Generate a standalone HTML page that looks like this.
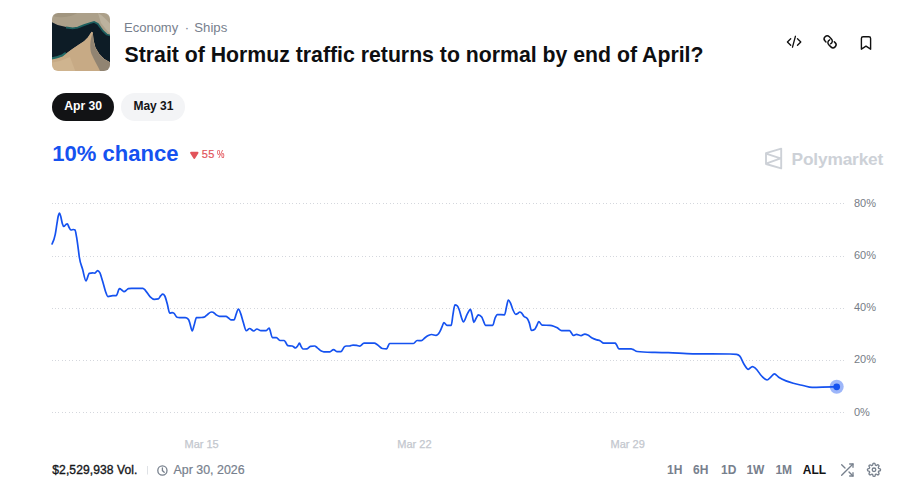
<!DOCTYPE html>
<html><head><meta charset="utf-8"><style>
*{margin:0;padding:0;box-sizing:border-box}
html,body{width:905px;height:492px;background:#fff;overflow:hidden}
body{position:relative;font-family:"Liberation Sans",sans-serif}
.t{position:absolute;white-space:nowrap}
.pill{position:absolute;border-radius:14px}
svg{position:absolute;left:0;top:0}
</style></head><body>
<svg width="905" height="492" viewBox="0 0 905 492">
<defs>
<linearGradient id="sea" x1="0" y1="0" x2="1" y2="1">
<stop offset="0" stop-color="#0c2a35"/><stop offset="1" stop-color="#0a1c2a"/>
</linearGradient>
<clipPath id="thc"><rect x="52" y="13" width="58" height="58" rx="6"/></clipPath>
</defs>
<filter id="bl" x="-10%" y="-10%" width="120%" height="120%"><feGaussianBlur stdDeviation="0.7"/></filter>
<g clip-path="url(#thc)"><g filter="url(#bl)">
<rect x="50" y="11" width="62" height="62" fill="#aca08a"/>
<path d="M50 11 H80 C74 16 66 18 58 17 C54 17 52 15 50 14 Z" fill="#a1957f"/>
<path d="M98 13 C103 16 108 21 112 26 L112 36 C108 32 104 27 101 23 Z" fill="#bcb29e"/>
<path d="M52 22.3 L57.6 24.9 L65.1 26.8 L72.7 28.4 L77.7 27.6 L84 25.2 L90.3 23 L94.1 22 L97.9 24 L100.4 27.6 L102.9 31 L106.7 34.5 L112 36 L112 63.5 L104.2 58.9 L99.1 53.8 L95.4 47.5 L93.5 40 L92.8 32.4 L91.6 31.8 L87.8 37.5 L84 41.2 L79 44.4 L72.7 48.8 L67.6 52.6 L62.6 56.4 L57.6 58.3 L50 60 L50 22 Z" fill="#0c1a28"/>
<path d="M66 27.5 L72.7 28.4 L77.7 27.6 L84 25.2 L90.3 23 L94.1 22 L97.9 24 L100.4 27.6 L102.9 31 L106.7 34.5 L112 36" fill="none" stroke="#1d5f5e" stroke-width="1.8"/>
<path d="M50 59 L57.6 57.3 L62.6 55.4 L66 53" fill="none" stroke="#236a66" stroke-width="2.6"/>
<path d="M91.6 31.8 L87.8 37.5 L84 41.2 L79 44.4 L72.7 48.8 L67.6 52.6 L62.6 56.4 L57.6 58.3 L50 60 L50 73 L112 73 L112 63.5 L104.2 58.9 L99.1 53.8 L95.4 47.5 L93.5 40 L92.8 32.4 Z" fill="#c7aa85"/>
<path d="M50 63 L60 61 L70 57 L76 73 L50 73 Z" fill="#cfb48f"/>
<path d="M92.6 33 L93.3 40 L95.2 47.5 L99 53.8 L104 58.9 L112 63.5 L112 73 L101 73 C98 66 94 60 91.5 54 C89.5 48 90 40 92.6 33 Z" fill="#918472"/>
</g></g>
<path d="M52 203h1v1h-1zM55 203h1v1h-1zM58 203h1v1h-1zM62 203h1v1h-1zM65 203h1v1h-1zM69 203h1v1h-1zM72 203h1v1h-1zM76 203h1v1h-1zM79 203h1v1h-1zM83 203h1v1h-1zM86 203h1v1h-1zM90 203h1v1h-1zM93 203h1v1h-1zM97 203h1v1h-1zM100 203h1v1h-1zM104 203h1v1h-1zM107 203h1v1h-1zM111 203h1v1h-1zM114 203h1v1h-1zM118 203h1v1h-1zM121 203h1v1h-1zM125 203h1v1h-1zM128 203h1v1h-1zM132 203h1v1h-1zM135 203h1v1h-1zM139 203h1v1h-1zM142 203h1v1h-1zM146 203h1v1h-1zM149 203h1v1h-1zM153 203h1v1h-1zM156 203h1v1h-1zM160 203h1v1h-1zM163 203h1v1h-1zM167 203h1v1h-1zM170 203h1v1h-1zM174 203h1v1h-1zM177 203h1v1h-1zM181 203h1v1h-1zM184 203h1v1h-1zM188 203h1v1h-1zM191 203h1v1h-1zM194 203h1v1h-1zM198 203h1v1h-1zM201 203h1v1h-1zM205 203h1v1h-1zM208 203h1v1h-1zM212 203h1v1h-1zM215 203h1v1h-1zM219 203h1v1h-1zM222 203h1v1h-1zM226 203h1v1h-1zM229 203h1v1h-1zM233 203h1v1h-1zM236 203h1v1h-1zM240 203h1v1h-1zM243 203h1v1h-1zM247 203h1v1h-1zM250 203h1v1h-1zM254 203h1v1h-1zM257 203h1v1h-1zM261 203h1v1h-1zM264 203h1v1h-1zM268 203h1v1h-1zM271 203h1v1h-1zM275 203h1v1h-1zM278 203h1v1h-1zM282 203h1v1h-1zM285 203h1v1h-1zM289 203h1v1h-1zM292 203h1v1h-1zM296 203h1v1h-1zM299 203h1v1h-1zM303 203h1v1h-1zM306 203h1v1h-1zM310 203h1v1h-1zM313 203h1v1h-1zM317 203h1v1h-1zM320 203h1v1h-1zM324 203h1v1h-1zM327 203h1v1h-1zM331 203h1v1h-1zM334 203h1v1h-1zM337 203h1v1h-1zM341 203h1v1h-1zM344 203h1v1h-1zM348 203h1v1h-1zM351 203h1v1h-1zM355 203h1v1h-1zM358 203h1v1h-1zM362 203h1v1h-1zM365 203h1v1h-1zM369 203h1v1h-1zM372 203h1v1h-1zM376 203h1v1h-1zM379 203h1v1h-1zM383 203h1v1h-1zM386 203h1v1h-1zM390 203h1v1h-1zM393 203h1v1h-1zM397 203h1v1h-1zM400 203h1v1h-1zM404 203h1v1h-1zM407 203h1v1h-1zM411 203h1v1h-1zM414 203h1v1h-1zM418 203h1v1h-1zM421 203h1v1h-1zM425 203h1v1h-1zM428 203h1v1h-1zM432 203h1v1h-1zM435 203h1v1h-1zM439 203h1v1h-1zM442 203h1v1h-1zM446 203h1v1h-1zM449 203h1v1h-1zM453 203h1v1h-1zM456 203h1v1h-1zM460 203h1v1h-1zM463 203h1v1h-1zM467 203h1v1h-1zM470 203h1v1h-1zM473 203h1v1h-1zM477 203h1v1h-1zM480 203h1v1h-1zM484 203h1v1h-1zM487 203h1v1h-1zM491 203h1v1h-1zM494 203h1v1h-1zM498 203h1v1h-1zM501 203h1v1h-1zM505 203h1v1h-1zM508 203h1v1h-1zM512 203h1v1h-1zM515 203h1v1h-1zM519 203h1v1h-1zM522 203h1v1h-1zM526 203h1v1h-1zM529 203h1v1h-1zM533 203h1v1h-1zM536 203h1v1h-1zM540 203h1v1h-1zM543 203h1v1h-1zM547 203h1v1h-1zM550 203h1v1h-1zM554 203h1v1h-1zM557 203h1v1h-1zM561 203h1v1h-1zM564 203h1v1h-1zM568 203h1v1h-1zM571 203h1v1h-1zM575 203h1v1h-1zM578 203h1v1h-1zM582 203h1v1h-1zM585 203h1v1h-1zM589 203h1v1h-1zM592 203h1v1h-1zM596 203h1v1h-1zM599 203h1v1h-1zM603 203h1v1h-1zM606 203h1v1h-1zM610 203h1v1h-1zM613 203h1v1h-1zM616 203h1v1h-1zM620 203h1v1h-1zM623 203h1v1h-1zM627 203h1v1h-1zM630 203h1v1h-1zM634 203h1v1h-1zM637 203h1v1h-1zM641 203h1v1h-1zM644 203h1v1h-1zM648 203h1v1h-1zM651 203h1v1h-1zM655 203h1v1h-1zM658 203h1v1h-1zM662 203h1v1h-1zM665 203h1v1h-1zM669 203h1v1h-1zM672 203h1v1h-1zM676 203h1v1h-1zM679 203h1v1h-1zM683 203h1v1h-1zM686 203h1v1h-1zM690 203h1v1h-1zM693 203h1v1h-1zM697 203h1v1h-1zM700 203h1v1h-1zM704 203h1v1h-1zM707 203h1v1h-1zM711 203h1v1h-1zM714 203h1v1h-1zM718 203h1v1h-1zM721 203h1v1h-1zM725 203h1v1h-1zM728 203h1v1h-1zM732 203h1v1h-1zM735 203h1v1h-1zM739 203h1v1h-1zM742 203h1v1h-1zM746 203h1v1h-1zM749 203h1v1h-1zM752 203h1v1h-1zM756 203h1v1h-1zM759 203h1v1h-1zM763 203h1v1h-1zM766 203h1v1h-1zM770 203h1v1h-1zM773 203h1v1h-1zM777 203h1v1h-1zM780 203h1v1h-1zM784 203h1v1h-1zM787 203h1v1h-1zM791 203h1v1h-1zM794 203h1v1h-1zM798 203h1v1h-1zM801 203h1v1h-1zM805 203h1v1h-1zM808 203h1v1h-1zM812 203h1v1h-1zM815 203h1v1h-1zM819 203h1v1h-1zM822 203h1v1h-1zM826 203h1v1h-1zM829 203h1v1h-1zM833 203h1v1h-1zM836 203h1v1h-1zM840 203h1v1h-1zM843 203h1v1h-1zM52 256h1v1h-1zM55 256h1v1h-1zM58 256h1v1h-1zM62 256h1v1h-1zM65 256h1v1h-1zM69 256h1v1h-1zM72 256h1v1h-1zM76 256h1v1h-1zM79 256h1v1h-1zM83 256h1v1h-1zM86 256h1v1h-1zM90 256h1v1h-1zM93 256h1v1h-1zM97 256h1v1h-1zM100 256h1v1h-1zM104 256h1v1h-1zM107 256h1v1h-1zM111 256h1v1h-1zM114 256h1v1h-1zM118 256h1v1h-1zM121 256h1v1h-1zM125 256h1v1h-1zM128 256h1v1h-1zM132 256h1v1h-1zM135 256h1v1h-1zM139 256h1v1h-1zM142 256h1v1h-1zM146 256h1v1h-1zM149 256h1v1h-1zM153 256h1v1h-1zM156 256h1v1h-1zM160 256h1v1h-1zM163 256h1v1h-1zM167 256h1v1h-1zM170 256h1v1h-1zM174 256h1v1h-1zM177 256h1v1h-1zM181 256h1v1h-1zM184 256h1v1h-1zM188 256h1v1h-1zM191 256h1v1h-1zM194 256h1v1h-1zM198 256h1v1h-1zM201 256h1v1h-1zM205 256h1v1h-1zM208 256h1v1h-1zM212 256h1v1h-1zM215 256h1v1h-1zM219 256h1v1h-1zM222 256h1v1h-1zM226 256h1v1h-1zM229 256h1v1h-1zM233 256h1v1h-1zM236 256h1v1h-1zM240 256h1v1h-1zM243 256h1v1h-1zM247 256h1v1h-1zM250 256h1v1h-1zM254 256h1v1h-1zM257 256h1v1h-1zM261 256h1v1h-1zM264 256h1v1h-1zM268 256h1v1h-1zM271 256h1v1h-1zM275 256h1v1h-1zM278 256h1v1h-1zM282 256h1v1h-1zM285 256h1v1h-1zM289 256h1v1h-1zM292 256h1v1h-1zM296 256h1v1h-1zM299 256h1v1h-1zM303 256h1v1h-1zM306 256h1v1h-1zM310 256h1v1h-1zM313 256h1v1h-1zM317 256h1v1h-1zM320 256h1v1h-1zM324 256h1v1h-1zM327 256h1v1h-1zM331 256h1v1h-1zM334 256h1v1h-1zM337 256h1v1h-1zM341 256h1v1h-1zM344 256h1v1h-1zM348 256h1v1h-1zM351 256h1v1h-1zM355 256h1v1h-1zM358 256h1v1h-1zM362 256h1v1h-1zM365 256h1v1h-1zM369 256h1v1h-1zM372 256h1v1h-1zM376 256h1v1h-1zM379 256h1v1h-1zM383 256h1v1h-1zM386 256h1v1h-1zM390 256h1v1h-1zM393 256h1v1h-1zM397 256h1v1h-1zM400 256h1v1h-1zM404 256h1v1h-1zM407 256h1v1h-1zM411 256h1v1h-1zM414 256h1v1h-1zM418 256h1v1h-1zM421 256h1v1h-1zM425 256h1v1h-1zM428 256h1v1h-1zM432 256h1v1h-1zM435 256h1v1h-1zM439 256h1v1h-1zM442 256h1v1h-1zM446 256h1v1h-1zM449 256h1v1h-1zM453 256h1v1h-1zM456 256h1v1h-1zM460 256h1v1h-1zM463 256h1v1h-1zM467 256h1v1h-1zM470 256h1v1h-1zM473 256h1v1h-1zM477 256h1v1h-1zM480 256h1v1h-1zM484 256h1v1h-1zM487 256h1v1h-1zM491 256h1v1h-1zM494 256h1v1h-1zM498 256h1v1h-1zM501 256h1v1h-1zM505 256h1v1h-1zM508 256h1v1h-1zM512 256h1v1h-1zM515 256h1v1h-1zM519 256h1v1h-1zM522 256h1v1h-1zM526 256h1v1h-1zM529 256h1v1h-1zM533 256h1v1h-1zM536 256h1v1h-1zM540 256h1v1h-1zM543 256h1v1h-1zM547 256h1v1h-1zM550 256h1v1h-1zM554 256h1v1h-1zM557 256h1v1h-1zM561 256h1v1h-1zM564 256h1v1h-1zM568 256h1v1h-1zM571 256h1v1h-1zM575 256h1v1h-1zM578 256h1v1h-1zM582 256h1v1h-1zM585 256h1v1h-1zM589 256h1v1h-1zM592 256h1v1h-1zM596 256h1v1h-1zM599 256h1v1h-1zM603 256h1v1h-1zM606 256h1v1h-1zM610 256h1v1h-1zM613 256h1v1h-1zM616 256h1v1h-1zM620 256h1v1h-1zM623 256h1v1h-1zM627 256h1v1h-1zM630 256h1v1h-1zM634 256h1v1h-1zM637 256h1v1h-1zM641 256h1v1h-1zM644 256h1v1h-1zM648 256h1v1h-1zM651 256h1v1h-1zM655 256h1v1h-1zM658 256h1v1h-1zM662 256h1v1h-1zM665 256h1v1h-1zM669 256h1v1h-1zM672 256h1v1h-1zM676 256h1v1h-1zM679 256h1v1h-1zM683 256h1v1h-1zM686 256h1v1h-1zM690 256h1v1h-1zM693 256h1v1h-1zM697 256h1v1h-1zM700 256h1v1h-1zM704 256h1v1h-1zM707 256h1v1h-1zM711 256h1v1h-1zM714 256h1v1h-1zM718 256h1v1h-1zM721 256h1v1h-1zM725 256h1v1h-1zM728 256h1v1h-1zM732 256h1v1h-1zM735 256h1v1h-1zM739 256h1v1h-1zM742 256h1v1h-1zM746 256h1v1h-1zM749 256h1v1h-1zM752 256h1v1h-1zM756 256h1v1h-1zM759 256h1v1h-1zM763 256h1v1h-1zM766 256h1v1h-1zM770 256h1v1h-1zM773 256h1v1h-1zM777 256h1v1h-1zM780 256h1v1h-1zM784 256h1v1h-1zM787 256h1v1h-1zM791 256h1v1h-1zM794 256h1v1h-1zM798 256h1v1h-1zM801 256h1v1h-1zM805 256h1v1h-1zM808 256h1v1h-1zM812 256h1v1h-1zM815 256h1v1h-1zM819 256h1v1h-1zM822 256h1v1h-1zM826 256h1v1h-1zM829 256h1v1h-1zM833 256h1v1h-1zM836 256h1v1h-1zM840 256h1v1h-1zM843 256h1v1h-1zM52 308h1v1h-1zM55 308h1v1h-1zM58 308h1v1h-1zM62 308h1v1h-1zM65 308h1v1h-1zM69 308h1v1h-1zM72 308h1v1h-1zM76 308h1v1h-1zM79 308h1v1h-1zM83 308h1v1h-1zM86 308h1v1h-1zM90 308h1v1h-1zM93 308h1v1h-1zM97 308h1v1h-1zM100 308h1v1h-1zM104 308h1v1h-1zM107 308h1v1h-1zM111 308h1v1h-1zM114 308h1v1h-1zM118 308h1v1h-1zM121 308h1v1h-1zM125 308h1v1h-1zM128 308h1v1h-1zM132 308h1v1h-1zM135 308h1v1h-1zM139 308h1v1h-1zM142 308h1v1h-1zM146 308h1v1h-1zM149 308h1v1h-1zM153 308h1v1h-1zM156 308h1v1h-1zM160 308h1v1h-1zM163 308h1v1h-1zM167 308h1v1h-1zM170 308h1v1h-1zM174 308h1v1h-1zM177 308h1v1h-1zM181 308h1v1h-1zM184 308h1v1h-1zM188 308h1v1h-1zM191 308h1v1h-1zM194 308h1v1h-1zM198 308h1v1h-1zM201 308h1v1h-1zM205 308h1v1h-1zM208 308h1v1h-1zM212 308h1v1h-1zM215 308h1v1h-1zM219 308h1v1h-1zM222 308h1v1h-1zM226 308h1v1h-1zM229 308h1v1h-1zM233 308h1v1h-1zM236 308h1v1h-1zM240 308h1v1h-1zM243 308h1v1h-1zM247 308h1v1h-1zM250 308h1v1h-1zM254 308h1v1h-1zM257 308h1v1h-1zM261 308h1v1h-1zM264 308h1v1h-1zM268 308h1v1h-1zM271 308h1v1h-1zM275 308h1v1h-1zM278 308h1v1h-1zM282 308h1v1h-1zM285 308h1v1h-1zM289 308h1v1h-1zM292 308h1v1h-1zM296 308h1v1h-1zM299 308h1v1h-1zM303 308h1v1h-1zM306 308h1v1h-1zM310 308h1v1h-1zM313 308h1v1h-1zM317 308h1v1h-1zM320 308h1v1h-1zM324 308h1v1h-1zM327 308h1v1h-1zM331 308h1v1h-1zM334 308h1v1h-1zM337 308h1v1h-1zM341 308h1v1h-1zM344 308h1v1h-1zM348 308h1v1h-1zM351 308h1v1h-1zM355 308h1v1h-1zM358 308h1v1h-1zM362 308h1v1h-1zM365 308h1v1h-1zM369 308h1v1h-1zM372 308h1v1h-1zM376 308h1v1h-1zM379 308h1v1h-1zM383 308h1v1h-1zM386 308h1v1h-1zM390 308h1v1h-1zM393 308h1v1h-1zM397 308h1v1h-1zM400 308h1v1h-1zM404 308h1v1h-1zM407 308h1v1h-1zM411 308h1v1h-1zM414 308h1v1h-1zM418 308h1v1h-1zM421 308h1v1h-1zM425 308h1v1h-1zM428 308h1v1h-1zM432 308h1v1h-1zM435 308h1v1h-1zM439 308h1v1h-1zM442 308h1v1h-1zM446 308h1v1h-1zM449 308h1v1h-1zM453 308h1v1h-1zM456 308h1v1h-1zM460 308h1v1h-1zM463 308h1v1h-1zM467 308h1v1h-1zM470 308h1v1h-1zM473 308h1v1h-1zM477 308h1v1h-1zM480 308h1v1h-1zM484 308h1v1h-1zM487 308h1v1h-1zM491 308h1v1h-1zM494 308h1v1h-1zM498 308h1v1h-1zM501 308h1v1h-1zM505 308h1v1h-1zM508 308h1v1h-1zM512 308h1v1h-1zM515 308h1v1h-1zM519 308h1v1h-1zM522 308h1v1h-1zM526 308h1v1h-1zM529 308h1v1h-1zM533 308h1v1h-1zM536 308h1v1h-1zM540 308h1v1h-1zM543 308h1v1h-1zM547 308h1v1h-1zM550 308h1v1h-1zM554 308h1v1h-1zM557 308h1v1h-1zM561 308h1v1h-1zM564 308h1v1h-1zM568 308h1v1h-1zM571 308h1v1h-1zM575 308h1v1h-1zM578 308h1v1h-1zM582 308h1v1h-1zM585 308h1v1h-1zM589 308h1v1h-1zM592 308h1v1h-1zM596 308h1v1h-1zM599 308h1v1h-1zM603 308h1v1h-1zM606 308h1v1h-1zM610 308h1v1h-1zM613 308h1v1h-1zM616 308h1v1h-1zM620 308h1v1h-1zM623 308h1v1h-1zM627 308h1v1h-1zM630 308h1v1h-1zM634 308h1v1h-1zM637 308h1v1h-1zM641 308h1v1h-1zM644 308h1v1h-1zM648 308h1v1h-1zM651 308h1v1h-1zM655 308h1v1h-1zM658 308h1v1h-1zM662 308h1v1h-1zM665 308h1v1h-1zM669 308h1v1h-1zM672 308h1v1h-1zM676 308h1v1h-1zM679 308h1v1h-1zM683 308h1v1h-1zM686 308h1v1h-1zM690 308h1v1h-1zM693 308h1v1h-1zM697 308h1v1h-1zM700 308h1v1h-1zM704 308h1v1h-1zM707 308h1v1h-1zM711 308h1v1h-1zM714 308h1v1h-1zM718 308h1v1h-1zM721 308h1v1h-1zM725 308h1v1h-1zM728 308h1v1h-1zM732 308h1v1h-1zM735 308h1v1h-1zM739 308h1v1h-1zM742 308h1v1h-1zM746 308h1v1h-1zM749 308h1v1h-1zM752 308h1v1h-1zM756 308h1v1h-1zM759 308h1v1h-1zM763 308h1v1h-1zM766 308h1v1h-1zM770 308h1v1h-1zM773 308h1v1h-1zM777 308h1v1h-1zM780 308h1v1h-1zM784 308h1v1h-1zM787 308h1v1h-1zM791 308h1v1h-1zM794 308h1v1h-1zM798 308h1v1h-1zM801 308h1v1h-1zM805 308h1v1h-1zM808 308h1v1h-1zM812 308h1v1h-1zM815 308h1v1h-1zM819 308h1v1h-1zM822 308h1v1h-1zM826 308h1v1h-1zM829 308h1v1h-1zM833 308h1v1h-1zM836 308h1v1h-1zM840 308h1v1h-1zM843 308h1v1h-1zM52 360h1v1h-1zM55 360h1v1h-1zM58 360h1v1h-1zM62 360h1v1h-1zM65 360h1v1h-1zM69 360h1v1h-1zM72 360h1v1h-1zM76 360h1v1h-1zM79 360h1v1h-1zM83 360h1v1h-1zM86 360h1v1h-1zM90 360h1v1h-1zM93 360h1v1h-1zM97 360h1v1h-1zM100 360h1v1h-1zM104 360h1v1h-1zM107 360h1v1h-1zM111 360h1v1h-1zM114 360h1v1h-1zM118 360h1v1h-1zM121 360h1v1h-1zM125 360h1v1h-1zM128 360h1v1h-1zM132 360h1v1h-1zM135 360h1v1h-1zM139 360h1v1h-1zM142 360h1v1h-1zM146 360h1v1h-1zM149 360h1v1h-1zM153 360h1v1h-1zM156 360h1v1h-1zM160 360h1v1h-1zM163 360h1v1h-1zM167 360h1v1h-1zM170 360h1v1h-1zM174 360h1v1h-1zM177 360h1v1h-1zM181 360h1v1h-1zM184 360h1v1h-1zM188 360h1v1h-1zM191 360h1v1h-1zM194 360h1v1h-1zM198 360h1v1h-1zM201 360h1v1h-1zM205 360h1v1h-1zM208 360h1v1h-1zM212 360h1v1h-1zM215 360h1v1h-1zM219 360h1v1h-1zM222 360h1v1h-1zM226 360h1v1h-1zM229 360h1v1h-1zM233 360h1v1h-1zM236 360h1v1h-1zM240 360h1v1h-1zM243 360h1v1h-1zM247 360h1v1h-1zM250 360h1v1h-1zM254 360h1v1h-1zM257 360h1v1h-1zM261 360h1v1h-1zM264 360h1v1h-1zM268 360h1v1h-1zM271 360h1v1h-1zM275 360h1v1h-1zM278 360h1v1h-1zM282 360h1v1h-1zM285 360h1v1h-1zM289 360h1v1h-1zM292 360h1v1h-1zM296 360h1v1h-1zM299 360h1v1h-1zM303 360h1v1h-1zM306 360h1v1h-1zM310 360h1v1h-1zM313 360h1v1h-1zM317 360h1v1h-1zM320 360h1v1h-1zM324 360h1v1h-1zM327 360h1v1h-1zM331 360h1v1h-1zM334 360h1v1h-1zM337 360h1v1h-1zM341 360h1v1h-1zM344 360h1v1h-1zM348 360h1v1h-1zM351 360h1v1h-1zM355 360h1v1h-1zM358 360h1v1h-1zM362 360h1v1h-1zM365 360h1v1h-1zM369 360h1v1h-1zM372 360h1v1h-1zM376 360h1v1h-1zM379 360h1v1h-1zM383 360h1v1h-1zM386 360h1v1h-1zM390 360h1v1h-1zM393 360h1v1h-1zM397 360h1v1h-1zM400 360h1v1h-1zM404 360h1v1h-1zM407 360h1v1h-1zM411 360h1v1h-1zM414 360h1v1h-1zM418 360h1v1h-1zM421 360h1v1h-1zM425 360h1v1h-1zM428 360h1v1h-1zM432 360h1v1h-1zM435 360h1v1h-1zM439 360h1v1h-1zM442 360h1v1h-1zM446 360h1v1h-1zM449 360h1v1h-1zM453 360h1v1h-1zM456 360h1v1h-1zM460 360h1v1h-1zM463 360h1v1h-1zM467 360h1v1h-1zM470 360h1v1h-1zM473 360h1v1h-1zM477 360h1v1h-1zM480 360h1v1h-1zM484 360h1v1h-1zM487 360h1v1h-1zM491 360h1v1h-1zM494 360h1v1h-1zM498 360h1v1h-1zM501 360h1v1h-1zM505 360h1v1h-1zM508 360h1v1h-1zM512 360h1v1h-1zM515 360h1v1h-1zM519 360h1v1h-1zM522 360h1v1h-1zM526 360h1v1h-1zM529 360h1v1h-1zM533 360h1v1h-1zM536 360h1v1h-1zM540 360h1v1h-1zM543 360h1v1h-1zM547 360h1v1h-1zM550 360h1v1h-1zM554 360h1v1h-1zM557 360h1v1h-1zM561 360h1v1h-1zM564 360h1v1h-1zM568 360h1v1h-1zM571 360h1v1h-1zM575 360h1v1h-1zM578 360h1v1h-1zM582 360h1v1h-1zM585 360h1v1h-1zM589 360h1v1h-1zM592 360h1v1h-1zM596 360h1v1h-1zM599 360h1v1h-1zM603 360h1v1h-1zM606 360h1v1h-1zM610 360h1v1h-1zM613 360h1v1h-1zM616 360h1v1h-1zM620 360h1v1h-1zM623 360h1v1h-1zM627 360h1v1h-1zM630 360h1v1h-1zM634 360h1v1h-1zM637 360h1v1h-1zM641 360h1v1h-1zM644 360h1v1h-1zM648 360h1v1h-1zM651 360h1v1h-1zM655 360h1v1h-1zM658 360h1v1h-1zM662 360h1v1h-1zM665 360h1v1h-1zM669 360h1v1h-1zM672 360h1v1h-1zM676 360h1v1h-1zM679 360h1v1h-1zM683 360h1v1h-1zM686 360h1v1h-1zM690 360h1v1h-1zM693 360h1v1h-1zM697 360h1v1h-1zM700 360h1v1h-1zM704 360h1v1h-1zM707 360h1v1h-1zM711 360h1v1h-1zM714 360h1v1h-1zM718 360h1v1h-1zM721 360h1v1h-1zM725 360h1v1h-1zM728 360h1v1h-1zM732 360h1v1h-1zM735 360h1v1h-1zM739 360h1v1h-1zM742 360h1v1h-1zM746 360h1v1h-1zM749 360h1v1h-1zM752 360h1v1h-1zM756 360h1v1h-1zM759 360h1v1h-1zM763 360h1v1h-1zM766 360h1v1h-1zM770 360h1v1h-1zM773 360h1v1h-1zM777 360h1v1h-1zM780 360h1v1h-1zM784 360h1v1h-1zM787 360h1v1h-1zM791 360h1v1h-1zM794 360h1v1h-1zM798 360h1v1h-1zM801 360h1v1h-1zM805 360h1v1h-1zM808 360h1v1h-1zM812 360h1v1h-1zM815 360h1v1h-1zM819 360h1v1h-1zM822 360h1v1h-1zM826 360h1v1h-1zM829 360h1v1h-1zM833 360h1v1h-1zM836 360h1v1h-1zM840 360h1v1h-1zM843 360h1v1h-1zM52 412h1v1h-1zM55 412h1v1h-1zM58 412h1v1h-1zM62 412h1v1h-1zM65 412h1v1h-1zM69 412h1v1h-1zM72 412h1v1h-1zM76 412h1v1h-1zM79 412h1v1h-1zM83 412h1v1h-1zM86 412h1v1h-1zM90 412h1v1h-1zM93 412h1v1h-1zM97 412h1v1h-1zM100 412h1v1h-1zM104 412h1v1h-1zM107 412h1v1h-1zM111 412h1v1h-1zM114 412h1v1h-1zM118 412h1v1h-1zM121 412h1v1h-1zM125 412h1v1h-1zM128 412h1v1h-1zM132 412h1v1h-1zM135 412h1v1h-1zM139 412h1v1h-1zM142 412h1v1h-1zM146 412h1v1h-1zM149 412h1v1h-1zM153 412h1v1h-1zM156 412h1v1h-1zM160 412h1v1h-1zM163 412h1v1h-1zM167 412h1v1h-1zM170 412h1v1h-1zM174 412h1v1h-1zM177 412h1v1h-1zM181 412h1v1h-1zM184 412h1v1h-1zM188 412h1v1h-1zM191 412h1v1h-1zM194 412h1v1h-1zM198 412h1v1h-1zM201 412h1v1h-1zM205 412h1v1h-1zM208 412h1v1h-1zM212 412h1v1h-1zM215 412h1v1h-1zM219 412h1v1h-1zM222 412h1v1h-1zM226 412h1v1h-1zM229 412h1v1h-1zM233 412h1v1h-1zM236 412h1v1h-1zM240 412h1v1h-1zM243 412h1v1h-1zM247 412h1v1h-1zM250 412h1v1h-1zM254 412h1v1h-1zM257 412h1v1h-1zM261 412h1v1h-1zM264 412h1v1h-1zM268 412h1v1h-1zM271 412h1v1h-1zM275 412h1v1h-1zM278 412h1v1h-1zM282 412h1v1h-1zM285 412h1v1h-1zM289 412h1v1h-1zM292 412h1v1h-1zM296 412h1v1h-1zM299 412h1v1h-1zM303 412h1v1h-1zM306 412h1v1h-1zM310 412h1v1h-1zM313 412h1v1h-1zM317 412h1v1h-1zM320 412h1v1h-1zM324 412h1v1h-1zM327 412h1v1h-1zM331 412h1v1h-1zM334 412h1v1h-1zM337 412h1v1h-1zM341 412h1v1h-1zM344 412h1v1h-1zM348 412h1v1h-1zM351 412h1v1h-1zM355 412h1v1h-1zM358 412h1v1h-1zM362 412h1v1h-1zM365 412h1v1h-1zM369 412h1v1h-1zM372 412h1v1h-1zM376 412h1v1h-1zM379 412h1v1h-1zM383 412h1v1h-1zM386 412h1v1h-1zM390 412h1v1h-1zM393 412h1v1h-1zM397 412h1v1h-1zM400 412h1v1h-1zM404 412h1v1h-1zM407 412h1v1h-1zM411 412h1v1h-1zM414 412h1v1h-1zM418 412h1v1h-1zM421 412h1v1h-1zM425 412h1v1h-1zM428 412h1v1h-1zM432 412h1v1h-1zM435 412h1v1h-1zM439 412h1v1h-1zM442 412h1v1h-1zM446 412h1v1h-1zM449 412h1v1h-1zM453 412h1v1h-1zM456 412h1v1h-1zM460 412h1v1h-1zM463 412h1v1h-1zM467 412h1v1h-1zM470 412h1v1h-1zM473 412h1v1h-1zM477 412h1v1h-1zM480 412h1v1h-1zM484 412h1v1h-1zM487 412h1v1h-1zM491 412h1v1h-1zM494 412h1v1h-1zM498 412h1v1h-1zM501 412h1v1h-1zM505 412h1v1h-1zM508 412h1v1h-1zM512 412h1v1h-1zM515 412h1v1h-1zM519 412h1v1h-1zM522 412h1v1h-1zM526 412h1v1h-1zM529 412h1v1h-1zM533 412h1v1h-1zM536 412h1v1h-1zM540 412h1v1h-1zM543 412h1v1h-1zM547 412h1v1h-1zM550 412h1v1h-1zM554 412h1v1h-1zM557 412h1v1h-1zM561 412h1v1h-1zM564 412h1v1h-1zM568 412h1v1h-1zM571 412h1v1h-1zM575 412h1v1h-1zM578 412h1v1h-1zM582 412h1v1h-1zM585 412h1v1h-1zM589 412h1v1h-1zM592 412h1v1h-1zM596 412h1v1h-1zM599 412h1v1h-1zM603 412h1v1h-1zM606 412h1v1h-1zM610 412h1v1h-1zM613 412h1v1h-1zM616 412h1v1h-1zM620 412h1v1h-1zM623 412h1v1h-1zM627 412h1v1h-1zM630 412h1v1h-1zM634 412h1v1h-1zM637 412h1v1h-1zM641 412h1v1h-1zM644 412h1v1h-1zM648 412h1v1h-1zM651 412h1v1h-1zM655 412h1v1h-1zM658 412h1v1h-1zM662 412h1v1h-1zM665 412h1v1h-1zM669 412h1v1h-1zM672 412h1v1h-1zM676 412h1v1h-1zM679 412h1v1h-1zM683 412h1v1h-1zM686 412h1v1h-1zM690 412h1v1h-1zM693 412h1v1h-1zM697 412h1v1h-1zM700 412h1v1h-1zM704 412h1v1h-1zM707 412h1v1h-1zM711 412h1v1h-1zM714 412h1v1h-1zM718 412h1v1h-1zM721 412h1v1h-1zM725 412h1v1h-1zM728 412h1v1h-1zM732 412h1v1h-1zM735 412h1v1h-1zM739 412h1v1h-1zM742 412h1v1h-1zM746 412h1v1h-1zM749 412h1v1h-1zM752 412h1v1h-1zM756 412h1v1h-1zM759 412h1v1h-1zM763 412h1v1h-1zM766 412h1v1h-1zM770 412h1v1h-1zM773 412h1v1h-1zM777 412h1v1h-1zM780 412h1v1h-1zM784 412h1v1h-1zM787 412h1v1h-1zM791 412h1v1h-1zM794 412h1v1h-1zM798 412h1v1h-1zM801 412h1v1h-1zM805 412h1v1h-1zM808 412h1v1h-1zM812 412h1v1h-1zM815 412h1v1h-1zM819 412h1v1h-1zM822 412h1v1h-1zM826 412h1v1h-1zM829 412h1v1h-1zM833 412h1v1h-1zM836 412h1v1h-1zM840 412h1v1h-1zM843 412h1v1h-1z" fill="#d4d7dd"/>
<path d="M52.10 243.90C53.13 241.85 54.17 239.81 55.20 234.60C55.80 231.58 56.40 227.02 57.00 223.40C57.40 220.98 57.80 218.02 58.20 216.30C58.63 214.44 59.07 213.00 59.50 213.00C59.90 213.00 60.30 214.91 60.70 216.30C61.23 218.15 61.77 221.69 62.30 223.40C62.80 225.01 63.30 226.50 63.80 226.50C64.47 226.50 65.13 225.05 65.80 224.60C66.30 224.26 66.80 223.90 67.30 223.90C67.83 223.90 68.37 226.07 68.90 227.00C69.57 228.16 70.23 230.00 70.90 230.00C71.73 230.00 72.57 229.50 73.40 229.50C73.93 229.50 74.47 229.67 75.00 230.00C75.50 230.31 76.00 233.80 76.50 236.60C77.00 239.40 77.50 243.12 78.00 246.80C78.43 249.99 78.87 254.10 79.30 257.00C80.40 264.35 81.50 265.37 82.60 269.30C83.73 273.35 84.87 280.90 86.00 280.90C87.10 280.90 88.20 273.56 89.30 273.30C90.43 273.03 91.57 272.90 92.70 272.90C93.43 272.90 94.17 273.10 94.90 273.10C95.80 273.10 96.70 270.60 97.60 270.60C98.33 270.60 99.07 271.33 99.80 272.70C100.77 274.50 101.73 278.43 102.70 281.60C103.67 284.77 104.63 289.06 105.60 291.70C106.37 293.79 107.13 296.60 107.90 296.60C109.53 296.60 111.17 295.70 112.80 295.70C113.93 295.70 115.07 295.70 116.20 295.70C117.30 295.70 118.40 288.70 119.50 288.70C120.47 288.70 121.43 289.82 122.40 290.50C122.93 290.88 123.47 291.70 124.00 291.70C125.10 291.70 126.20 290.17 127.30 289.40C127.63 289.17 127.97 288.76 128.30 288.70C129.37 288.50 130.43 288.40 131.50 288.40C135.30 288.40 139.10 288.40 142.90 288.40C143.70 288.40 144.50 289.53 145.30 290.30C146.93 291.88 148.57 295.27 150.20 296.80C151.57 298.08 152.93 299.30 154.30 299.30C155.63 299.30 156.97 299.17 158.30 298.90C159.13 298.73 159.97 296.56 160.80 295.70C161.43 295.05 162.07 294.10 162.70 294.10C163.40 294.10 164.10 294.73 164.80 296.00C165.63 297.51 166.47 301.18 167.30 304.10C168.10 306.90 168.90 313.10 169.70 313.10C170.53 313.10 171.37 312.60 172.20 312.60C172.73 312.60 173.27 312.77 173.80 313.10C174.87 313.77 175.93 316.86 177.00 317.20C177.83 317.47 178.67 317.60 179.50 317.60C181.40 317.60 183.30 317.60 185.20 317.60C186.27 317.60 187.33 318.17 188.40 319.30C188.93 319.87 189.47 322.11 190.00 323.70C190.73 325.89 191.47 331.00 192.20 331.00C192.83 331.00 193.47 327.26 194.10 325.30C194.90 322.83 195.70 317.63 196.50 317.60C198.13 317.53 199.77 317.57 201.40 317.50C202.30 317.46 203.20 317.40 204.10 317.20C205.17 316.96 206.23 315.48 207.30 314.70C208.67 313.71 210.03 312.00 211.40 312.00C211.93 312.00 212.47 312.10 213.00 312.30C214.10 312.71 215.20 314.23 216.30 314.90C217.37 315.55 218.43 316.30 219.50 316.30C221.67 316.30 223.83 316.30 226.00 316.30C226.83 316.30 227.67 317.40 228.50 318.00C229.30 318.57 230.10 319.80 230.90 319.80C231.97 319.80 233.03 319.80 234.10 319.80C234.77 319.80 235.43 316.09 236.10 314.40C236.87 312.46 237.63 309.00 238.40 309.00C239.17 309.00 239.93 311.55 240.70 313.60C241.50 315.74 242.30 319.19 243.10 321.70C244.17 325.04 245.23 330.70 246.30 330.70C247.40 330.70 248.50 328.50 249.60 328.50C250.97 328.50 252.33 331.00 253.70 331.00C254.77 331.00 255.83 329.00 256.90 329.00C258.27 329.00 259.63 330.70 261.00 330.70C262.63 330.70 264.27 330.70 265.90 330.70C266.97 330.70 268.03 328.20 269.10 328.20C270.20 328.20 271.30 337.60 272.40 337.60C273.73 337.60 275.07 337.60 276.40 337.60C277.57 337.60 278.73 340.50 279.90 340.50C281.30 340.50 282.70 340.50 284.10 340.50C284.73 340.50 285.37 342.00 286.00 342.90C286.60 343.75 287.20 345.62 287.80 345.70C289.23 345.90 290.67 345.80 292.10 346.00C293.30 346.17 294.50 348.00 295.70 348.00C296.33 348.00 296.97 346.83 297.60 346.00C298.20 345.21 298.80 343.20 299.40 343.20C300.00 343.20 300.60 345.63 301.20 346.60C301.80 347.57 302.40 349.00 303.00 349.00C304.33 349.00 305.67 348.93 307.00 348.80C308.13 348.69 309.27 346.46 310.40 346.30C311.80 346.10 313.20 346.00 314.60 346.00C315.43 346.00 316.27 347.01 317.10 347.60C318.50 348.60 319.90 350.42 321.30 351.10C322.13 351.51 322.97 351.80 323.80 351.80C325.83 351.80 327.87 351.80 329.90 351.80C331.10 351.80 332.30 349.60 333.50 349.60C334.73 349.60 335.97 351.70 337.20 351.70C338.43 351.70 339.67 351.70 340.90 351.70C342.10 351.70 343.30 347.40 344.50 346.60C345.10 346.20 345.70 346.00 346.30 346.00C347.33 346.00 348.37 346.00 349.40 346.00C350.60 346.00 351.80 345.10 353.00 345.10C354.23 345.10 355.47 345.20 356.70 345.40C357.73 345.57 358.77 346.20 359.80 346.20C361.20 346.20 362.60 343.20 364.00 343.20C367.47 343.20 370.93 343.20 374.40 343.20C375.40 343.20 376.40 344.18 377.40 344.80C379.03 345.81 380.67 348.27 382.30 348.50C383.73 348.70 385.17 348.80 386.60 348.80C387.60 348.80 388.60 343.50 389.60 343.50C397.53 343.50 405.47 343.50 413.40 343.50C414.63 343.50 415.87 340.50 417.10 340.50C418.50 340.50 419.90 340.70 421.30 340.70C422.53 340.70 423.77 338.59 425.00 337.70C426.10 336.91 427.20 336.13 428.30 335.60C429.43 335.05 430.57 334.50 431.70 334.50C433.13 334.50 434.57 335.40 436.00 335.40C437.20 335.40 438.40 334.11 439.60 332.10C440.43 330.70 441.27 328.42 442.10 326.60C442.70 325.29 443.30 322.70 443.90 322.70C444.93 322.70 445.97 325.40 447.00 325.40C448.40 325.40 449.80 325.40 451.20 325.40C451.80 325.40 452.40 317.74 453.00 314.40C453.63 310.87 454.27 304.90 454.90 304.90C455.70 304.90 456.50 305.23 457.30 305.90C457.90 306.40 458.50 307.95 459.10 309.50C459.93 311.66 460.77 315.74 461.60 318.00C462.20 319.63 462.80 322.00 463.40 322.00C464.63 322.00 465.87 316.60 467.10 314.40C468.20 312.44 469.30 309.30 470.40 309.30C470.93 309.30 471.47 312.40 472.00 314.40C472.60 316.65 473.20 322.30 473.80 322.30C474.60 322.30 475.40 319.29 476.20 318.00C476.93 316.82 477.67 314.80 478.40 314.80C479.50 314.80 480.60 315.57 481.70 317.10C482.30 317.94 482.90 319.75 483.50 321.10C484.13 322.52 484.77 325.40 485.40 325.40C487.83 325.40 490.27 325.40 492.70 325.40C493.50 325.40 494.30 319.82 495.10 318.00C495.83 316.33 496.57 314.60 497.30 314.60C499.73 314.60 502.17 314.80 504.60 314.80C505.30 314.80 506.00 308.65 506.70 305.90C507.23 303.81 507.77 300.00 508.30 300.00C509.00 300.00 509.70 301.39 510.40 302.80C511.20 304.41 512.00 307.69 512.80 309.50C513.83 311.84 514.87 314.40 515.90 314.40C516.50 314.40 517.10 313.76 517.70 313.40C518.40 312.98 519.10 312.00 519.80 312.00C520.43 312.00 521.07 312.56 521.70 313.20C522.40 313.91 523.10 315.39 523.80 316.20C525.00 317.59 526.20 317.03 527.40 318.70C528.03 319.58 528.67 321.13 529.30 322.90C530.03 324.94 530.77 330.50 531.50 330.50C532.60 330.50 533.70 330.10 534.80 329.30C535.40 328.86 536.00 327.13 536.60 326.00C537.33 324.62 538.07 321.70 538.80 321.70C539.90 321.70 541.00 325.02 542.10 325.10C544.73 325.30 547.37 325.20 550.00 325.40C551.23 325.49 552.47 325.79 553.70 326.20C554.90 326.60 556.10 327.15 557.30 327.80C558.73 328.57 560.17 330.60 561.60 330.60C564.23 330.60 566.87 330.60 569.50 330.60C570.10 330.60 570.70 331.93 571.30 332.70C571.93 333.52 572.57 335.40 573.20 335.40C574.30 335.40 575.40 334.45 576.50 334.45C578.03 334.45 579.57 335.60 581.10 335.60C582.33 335.60 583.57 334.10 584.80 334.10C585.80 334.10 586.80 334.54 587.80 335.00C589.23 335.66 590.67 337.21 592.10 338.00C593.73 338.90 595.37 339.39 597.00 339.90C598.00 340.21 599.00 340.25 600.00 340.70C601.23 341.25 602.47 343.20 603.70 343.20C607.53 343.20 611.37 343.20 615.20 343.20C615.63 343.20 616.07 344.20 616.50 344.80C617.30 345.91 618.10 348.80 618.90 348.80C622.97 348.80 627.03 348.80 631.10 348.80C631.70 348.80 632.30 349.17 632.90 349.40C634.33 349.94 635.77 351.36 637.20 351.50C643.13 352.10 649.07 352.20 655.00 352.40C659.43 352.55 663.87 352.56 668.30 352.70C676.43 352.95 684.57 353.71 692.70 353.80C705.13 353.93 717.57 353.87 730.00 354.00C732.20 354.02 734.40 354.10 736.60 354.30C737.60 354.39 738.60 354.86 739.60 355.90C741.23 357.59 742.87 362.61 744.50 365.00C745.73 366.80 746.97 369.30 748.20 369.30C749.60 369.30 751.00 366.60 752.40 366.60C753.43 366.60 754.47 367.48 755.50 368.30C757.53 369.90 759.57 374.01 761.60 376.00C763.43 377.80 765.27 380.00 767.10 380.00C768.30 380.00 769.50 378.20 770.70 377.20C771.93 376.17 773.17 373.90 774.40 373.90C775.83 373.90 777.27 376.24 778.70 377.20C781.13 378.83 783.57 379.88 786.00 380.90C788.43 381.92 790.87 382.61 793.30 383.30C796.53 384.22 799.77 384.80 803.00 385.50C806.03 386.16 809.07 387.40 812.10 387.40C818.87 387.40 825.63 386.80 832.40 386.80C833.83 386.80 835.27 386.80 836.70 386.80" fill="none" stroke="#1552f0" stroke-width="1.7" stroke-linejoin="round" stroke-linecap="round"/>
<circle cx="836.7" cy="386.8" r="7" fill="#1552f0" fill-opacity="0.42"/>
<circle cx="836.7" cy="386.8" r="3.4" fill="#1552f0"/>
<!-- polymarket logo -->
<path d="M766 153.2 L781.2 148.6 L781.2 168.4 L766 164 Z M766 153.6 L780.6 158.4 L766 163.6" fill="none" stroke="#cdd1d7" stroke-width="1.9" stroke-linejoin="round"/>
<!-- code icon -->
<g fill="none" stroke="#111" stroke-width="1.35" stroke-linecap="round" stroke-linejoin="round">
<path d="M790.7 38.8 L787.4 41.9 L790.7 45.2"/>
<path d="M797.5 38.8 L800.8 41.9 L797.5 45.2"/>
<path d="M795.4 36.3 L792.5 47.2"/>
</g>
<!-- link icon -->
<g fill="none" stroke="#111" stroke-width="1.45" stroke-linecap="round" transform="translate(830.1 41.85) rotate(45)">
<path d="M-2.86 3 L-4.1 3 A3 3 0 0 1 -4.1 -3 L-1.1 -3 A3 3 0 0 1 1.68 1.12"/>
<path d="M2.86 -3 L4.1 -3 A3 3 0 0 1 4.1 3 L1.1 3 A3 3 0 0 1 -1.68 -1.12"/>
</g>
<!-- bookmark -->
<path d="M861.4 49.2 L861.4 38.4 Q861.4 36.7 863.1 36.7 L868.9 36.7 Q870.6 36.7 870.6 38.4 L870.6 49.2 L866 46.2 Z" fill="none" stroke="#111" stroke-width="1.4" stroke-linejoin="round"/>
<!-- down triangle -->
<path d="M191 152.7 L197.6 152.7 L194.3 158.1 Z" fill="#e2545b" stroke="#e2545b" stroke-width="1.8" stroke-linejoin="round"/>
<!-- separator -->
<rect x="147" y="466" width="1" height="8.5" fill="#dfe2e6"/>
<!-- clock -->
<g fill="none" stroke="#77808d" stroke-width="1.3" stroke-linecap="round">
<circle cx="162.4" cy="470.5" r="4.6"/>
<path d="M162.4 467.8 L162.4 470.6 L164.2 472.2"/>
</g>
<!-- shuffle (feather) -->
<g transform="translate(839 462) scale(0.6667)" fill="none" stroke="#77808d" stroke-width="2" stroke-linecap="round" stroke-linejoin="round">
<polyline points="16 3 21 3 21 8"/><line x1="4" y1="20" x2="21" y2="3"/><polyline points="21 16 21 21 16 21"/><line x1="15" y1="15" x2="21" y2="21"/><line x1="4" y1="4" x2="9" y2="9"/>
</g>
<!-- settings (feather) -->
<g transform="translate(866.8 462.6) scale(0.6)" fill="none" stroke="#77808d" stroke-width="2.2" stroke-linecap="round" stroke-linejoin="round">
<circle cx="12" cy="12" r="3"/>
<path d="M19.4 15a1.650 1.65 0 0 0 .33 1.82l.06.06a2 2 0 0 1 0 2.83 2 2 0 0 1-2.830 0l-.06-.06a1.65 1.65 0 0 0-1.82-.33 1.65 1.65 0 0 0-1 1.51V21a2 2 0 0 1-2 2 2 2 0 0 1-2-2v-.09A1.65 1.65 0 0 0 9 19.4a1.65 1.65 0 0 0-1.82.33l-.06.06a2 2 0 0 1-2.83 0 2 2 0 0 1 0-2.83l.06-.06a1.65 1.65 0 0 0 .33-1.82 1.65 1.65 0 0 0-1.51-1H3a2 2 0 0 1-2-2 2 2 0 0 1 2-2h.09A1.65 1.65 0 0 0 4.6 9a1.65 1.65 0 0 0-.33-1.82l-.06-.06a2 2 0 0 1 0-2.83 2 2 0 0 1 2.83 0l.06.06a1.65 1.65 0 0 0 1.82.33H9a1.65 1.65 0 0 0 1-1.51V3a2 2 0 0 1 2-2 2 2 0 0 1 2 2v.09a1.65 1.65 0 0 0 1 1.51 1.65 1.65 0 0 0 1.82-.33l.06-.06a2 2 0 0 1 2.83 0 2 2 0 0 1 0 2.83l-.06.06a1.65 1.65 0 0 0-.33 1.82V9a1.65 1.65 0 0 0 1.51 1H21a2 2 0 0 1 2 2 2 2 0 0 1-2 2h-.09a1.65 1.65 0 0 0-1.51 1z"/>
</g>
</svg>
<div class="pill" style="left:52px;top:93px;width:62px;height:28px;background:#121315"></div>
<div class="pill" style="left:121px;top:93px;width:64px;height:28px;background:#f3f4f6"></div>
<div class="t" style="left:124px;top:20.80px;font-size:13px;line-height:13px;font-weight:400;color:#77808d;">Economy</div>
<div class="t" style="left:184.8px;top:20.80px;font-size:13px;line-height:13px;font-weight:400;color:#77808d;">·</div>
<div class="t" style="left:194.3px;top:20.63px;font-size:13.2px;line-height:13.2px;font-weight:400;color:#77808d;">Ships</div>
<div class="t" style="left:124.6px;top:44.50px;font-size:21.26px;line-height:21.26px;font-weight:700;color:#0e0f11;">Strait of Hormuz traffic returns to normal by end of April?</div>
<div class="t" style="left:64.2px;top:99.87px;font-size:12.2px;line-height:12.2px;font-weight:700;color:#fff;">Apr 30</div>
<div class="t" style="left:133.4px;top:100.04px;font-size:12.0px;line-height:12.0px;font-weight:700;color:#121315;">May 31</div>
<div class="t" style="left:52.2px;top:143.13px;font-size:22.05px;line-height:22.05px;font-weight:700;color:#1552f0;">10% chance</div>
<div class="t" style="left:201.7px;top:148.59px;font-size:11px;line-height:11px;font-weight:400;color:#e2545b;letter-spacing:0.5px;-webkit-text-stroke:0.2px #e2545b">55<span style="display:inline-block;margin-left:2.0px;transform:scaleX(0.76);transform-origin:0 0">%</span></div>
<div class="t" style="left:791.6px;top:151.16px;font-size:17.3px;line-height:17.3px;font-weight:700;color:#cdd1d7;letter-spacing:-0.16px">Polymarket</div>
<div class="t" style="left:854px;top:197.99px;font-size:11px;line-height:11px;font-weight:400;color:#767c86;">80%</div>
<div class="t" style="left:854px;top:250.29px;font-size:11px;line-height:11px;font-weight:400;color:#767c86;">60%</div>
<div class="t" style="left:854px;top:301.89px;font-size:11px;line-height:11px;font-weight:400;color:#767c86;">40%</div>
<div class="t" style="left:854px;top:353.89px;font-size:11px;line-height:11px;font-weight:400;color:#767c86;">20%</div>
<div class="t" style="left:854px;top:406.69px;font-size:11px;line-height:11px;font-weight:400;color:#767c86;">0%</div>
<div class="t" style="left:184.5px;top:438.69px;font-size:11px;line-height:11px;font-weight:400;color:#c3c7ce;-webkit-text-stroke:0.25px #c3c7ce">Mar 15</div>
<div class="t" style="left:397.3px;top:438.69px;font-size:11px;line-height:11px;font-weight:400;color:#c3c7ce;-webkit-text-stroke:0.25px #c3c7ce">Mar 22</div>
<div class="t" style="left:610.6px;top:438.69px;font-size:11px;line-height:11px;font-weight:400;color:#c3c7ce;-webkit-text-stroke:0.25px #c3c7ce">Mar 29</div>
<div class="t" style="left:52.3px;top:463.56px;font-size:12.1px;line-height:12.1px;font-weight:400;color:#16171a;-webkit-text-stroke:0.35px #16171a;letter-spacing:0.08px">$2,529,938 Vol.</div>
<div class="t" style="left:173.6px;top:464.10px;font-size:12.4px;line-height:12.4px;font-weight:400;color:#77808d;-webkit-text-stroke:0.2px #77808d">Apr 30, 2026</div>
<div class="t" style="left:667px;top:463.54px;font-size:12px;line-height:12px;font-weight:700;color:#77808d;">1H</div>
<div class="t" style="left:693px;top:463.54px;font-size:12px;line-height:12px;font-weight:700;color:#77808d;">6H</div>
<div class="t" style="left:721px;top:463.54px;font-size:12px;line-height:12px;font-weight:700;color:#77808d;">1D</div>
<div class="t" style="left:746.4px;top:463.54px;font-size:12px;line-height:12px;font-weight:700;color:#77808d;">1W</div>
<div class="t" style="left:775.4px;top:463.54px;font-size:12px;line-height:12px;font-weight:700;color:#77808d;">1M</div>
<div class="t" style="left:802.8px;top:463.54px;font-size:12px;line-height:12px;font-weight:700;color:#121315;">ALL</div>
</body></html>
